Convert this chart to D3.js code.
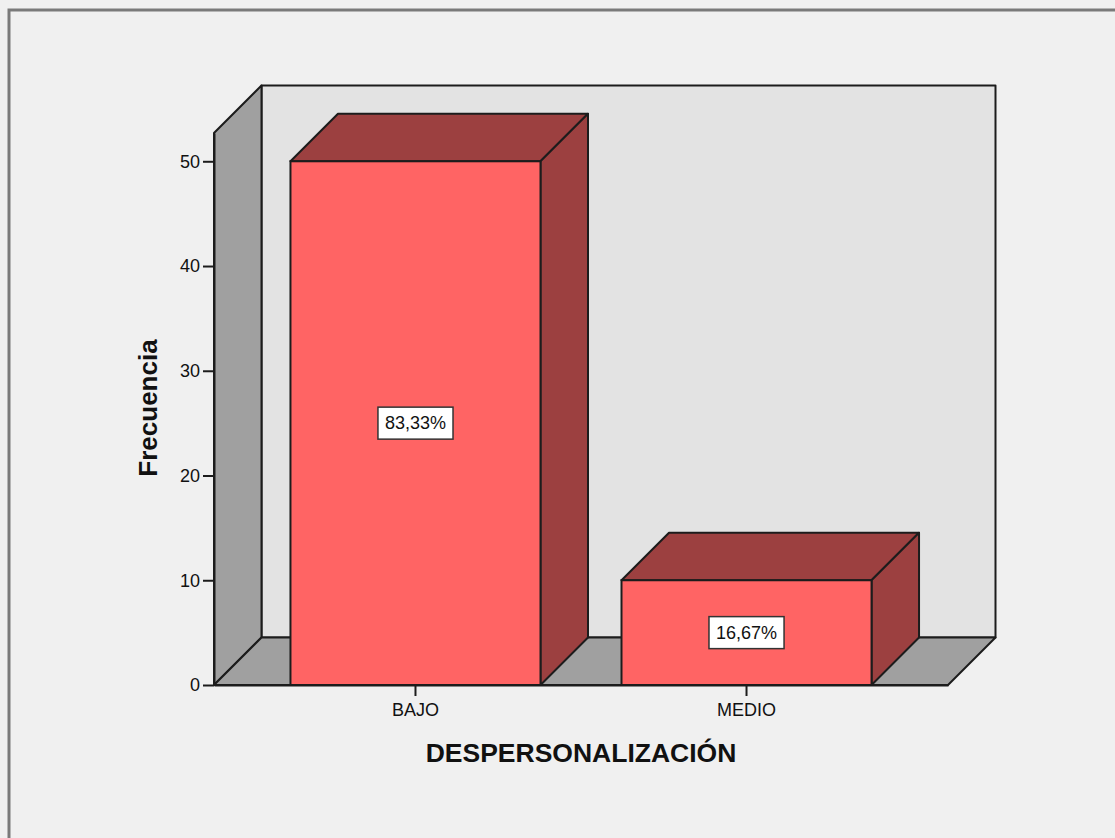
<!DOCTYPE html>
<html>
<head>
<meta charset="utf-8">
<script src="https://cdn.jsdelivr.net/npm/d3@7"></script>
<style>
  html, body { margin: 0; padding: 0; background: #f0f0f0; }
  svg { display: block; font-family: "Liberation Sans", Arial, sans-serif; }
</style>
</head>
<body>
<svg id="chart" width="1115" height="838"></svg>
<script>
// Frequency of depersonalization levels
const categories = ["BAJO", "MEDIO"];
const frequencies = [50, 10];
const percentLabels = ["83,33%", "16,67%"];
const yTicks = [0, 10, 20, 30, 40, 50];
const yAxisMax = 52.7;

const svg = d3.select("#chart");
const W = 1115, H = 838;

// Plot box (front plane) and 3D depth offset
const plotLeft = 214, plotRight = 948, plotBottom = 685, plotTop = 133;
const depth = 47.5;

const y = d3.scaleLinear().domain([0, yAxisMax]).range([plotBottom, plotTop]);
const x = d3.scaleBand().domain(categories).range([plotLeft, plotRight])
  .paddingInner(0.2447).paddingOuter(0.231);

const stroke = "#1c1c1c";
const sw = 2;

// background + outer frame
svg.append("rect").attr("width", W).attr("height", H).attr("fill", "#f0f0f0");
svg.append("rect").attr("x", 9).attr("y", 10).attr("width", W + 20).attr("height", H + 20)
  .attr("fill", "none").attr("stroke", "#7a7a7a").attr("stroke-width", 3);

const poly = pts => "M" + pts.map(p => p.join(",")).join("L") + "Z";

// back wall
svg.append("path")
  .attr("d", poly([[plotLeft + depth, plotTop - depth], [plotRight + depth, plotTop - depth],
                   [plotRight + depth, plotBottom - depth], [plotLeft + depth, plotBottom - depth]]))
  .attr("fill", "#e3e3e3").attr("stroke", stroke).attr("stroke-width", sw)
  .attr("stroke-linejoin", "round");

// left wall
svg.append("path")
  .attr("d", poly([[plotLeft, plotTop], [plotLeft + depth, plotTop - depth],
                   [plotLeft + depth, plotBottom - depth], [plotLeft, plotBottom]]))
  .attr("fill", "#a0a0a0").attr("stroke", stroke).attr("stroke-width", sw)
  .attr("stroke-linejoin", "round");

// floor
svg.append("path")
  .attr("d", poly([[plotLeft, plotBottom], [plotLeft + depth, plotBottom - depth],
                   [plotRight + depth, plotBottom - depth], [plotRight, plotBottom]]))
  .attr("fill", "#a0a0a0").attr("stroke", stroke).attr("stroke-width", sw)
  .attr("stroke-linejoin", "round");

// bars
const data = categories.map((c, i) => ({ cat: c, val: frequencies[i], label: percentLabels[i] }));
const bars = svg.append("g").selectAll("g").data(data).join("g");

bars.append("path") // top face
  .attr("d", d => {
    const x0 = x(d.cat), x1 = x0 + x.bandwidth(), yt = y(d.val);
    return poly([[x0, yt], [x0 + depth, yt - depth], [x1 + depth, yt - depth], [x1, yt]]);
  })
  .attr("fill", "#9c4040").attr("stroke", stroke).attr("stroke-width", sw)
  .attr("stroke-linejoin", "round");

bars.append("path") // side face
  .attr("d", d => {
    const x1 = x(d.cat) + x.bandwidth(), yt = y(d.val);
    return poly([[x1, yt], [x1 + depth, yt - depth], [x1 + depth, plotBottom - depth], [x1, plotBottom]]);
  })
  .attr("fill", "#9c4040").attr("stroke", stroke).attr("stroke-width", sw)
  .attr("stroke-linejoin", "round");

bars.append("rect") // front face
  .attr("x", d => x(d.cat))
  .attr("y", d => y(d.val))
  .attr("width", x.bandwidth())
  .attr("height", d => plotBottom - y(d.val))
  .attr("fill", "#ff6464").attr("stroke", stroke).attr("stroke-width", sw);

// value labels
const lbl = bars.append("g")
  .attr("transform", d => `translate(${x(d.cat) + x.bandwidth() / 2},${y(d.val / 2)})`);
lbl.append("text")
  .attr("text-anchor", "middle").attr("dy", "0.35em")
  .attr("font-size", 18).attr("fill", "#111")
  .text(d => d.label)
  .each(function () {
    const bb = this.getBBox();
    d3.select(this.parentNode).insert("rect", "text")
      .attr("x", bb.x - 7).attr("y", -16)
      .attr("width", bb.width + 14).attr("height", 32)
      .attr("fill", "#ffffff").attr("stroke", "#333").attr("stroke-width", 1.5);
  });

// axes
const yAxis = svg.append("g").attr("transform", `translate(${plotLeft},0)`)
  .call(d3.axisLeft(y).tickValues(yTicks).tickFormat(d3.format("d"))
    .tickSize(11).tickSizeOuter(0).tickPadding(3));
const xAxis = svg.append("g").attr("transform", `translate(0,${plotBottom})`)
  .call(d3.axisBottom(x).tickSize(11).tickSizeOuter(0).tickPadding(7));

[yAxis, xAxis].forEach(a => {
  a.select(".domain").attr("stroke", stroke).attr("stroke-width", sw);
  a.selectAll(".tick line").attr("stroke", stroke).attr("stroke-width", 2);
  a.selectAll(".tick text").attr("fill", "#111").attr("font-size", 18)
    .attr("font-family", "'Liberation Sans', Arial, sans-serif");
});

// axis titles
svg.append("text")
  .attr("x", 581).attr("y", 762)
  .attr("text-anchor", "middle").attr("font-size", 26.5).attr("font-weight", "bold")
  .attr("fill", "#111")
  .text("DESPERSONALIZACIÓN");

svg.append("text")
  .attr("transform", "translate(157,408) rotate(-90)")
  .attr("text-anchor", "middle").attr("font-size", 26).attr("font-weight", "bold")
  .attr("fill", "#111")
  .text("Frecuencia");
</script>
</body>
</html>
